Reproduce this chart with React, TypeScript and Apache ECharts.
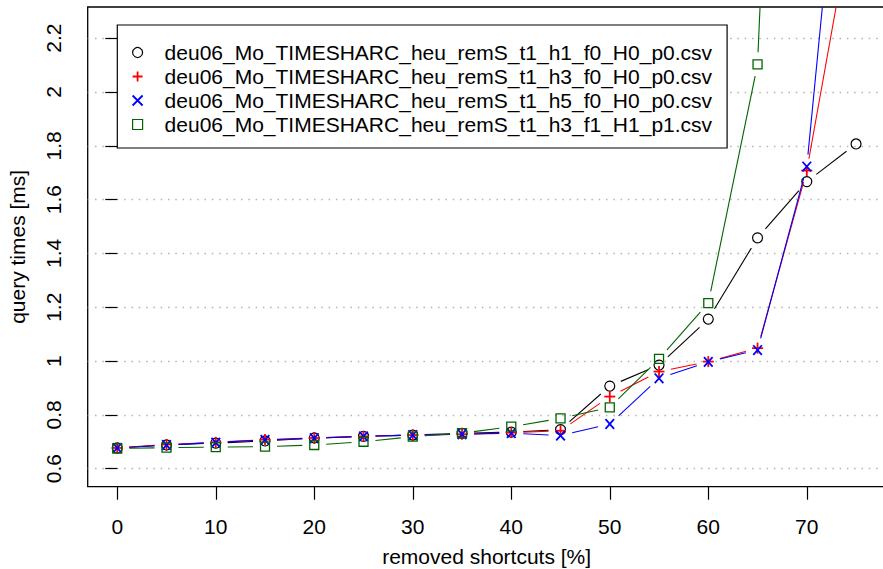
import React, { useEffect, useRef } from "react";
import * as echarts from "echarts";

const xValues = [0, 5, 10, 15, 20, 25, 30, 35, 40, 45, 50, 55, 60, 65, 70, 75];
const seriesNames = [
  "deu06_Mo_TIMESHARC_heu_remS_t1_h1_f0_H0_p0.csv",
  "deu06_Mo_TIMESHARC_heu_remS_t1_h3_f0_H0_p0.csv",
  "deu06_Mo_TIMESHARC_heu_remS_t1_h5_f0_H0_p0.csv",
  "deu06_Mo_TIMESHARC_heu_remS_t1_h3_f1_H1_p1.csv",
];
const h1Values = [0.677, 0.688, 0.695, 0.703, 0.714, 0.72, 0.725, 0.731, 0.736, 0.745, 0.907, 0.985, 1.156, 1.458, 1.667, 1.807];
const h3Values = [0.677, 0.69, 0.698, 0.708, 0.714, 0.72, 0.725, 0.728, 0.734, 0.741, 0.868, 0.961, 0.998, 1.048, 1.708, 2.73];
const h5Values = [0.677, 0.688, 0.697, 0.707, 0.713, 0.72, 0.725, 0.728, 0.732, 0.723, 0.766, 0.936, 0.997, 1.041, 1.723, 3.6];
const f1Values = [0.675, 0.678, 0.68, 0.682, 0.688, 0.7, 0.719, 0.732, 0.756, 0.787, 0.828, 1.008, 1.215, 2.103, 6.3, null];
const xTicks = [0, 10, 20, 30, 40, 50, 60, 70];
const yTicks = [0.6, 0.8, 1.0, 1.2, 1.4, 1.6, 1.8, 2.0, 2.2];

const colors = ["#000000", "#ff0000", "#0000ff", "#006400"];
const markers = ["circle", "plus", "cross", "square"];

const FONT = "'Liberation Sans', Arial, Helvetica, sans-serif";
const GAP = 12;

function clipSeg(x1: number, y1: number, x2: number, y2: number, r: any) {
  let t0 = 0, t1 = 1;
  const dx = x2 - x1, dy = y2 - y1;
  const p = [-dx, dx, -dy, dy];
  const q = [x1 - r.x, r.x + r.width - x1, y1 - r.y, r.y + r.height - y1];
  for (let i = 0; i < 4; i++) {
    if (p[i] === 0) {
      if (q[i] < 0) return null;
    } else {
      const t = q[i] / p[i];
      if (p[i] < 0) { if (t > t1) return null; if (t > t0) t0 = t; }
      else { if (t < t0) return null; if (t < t1) t1 = t; }
    }
  }
  return [x1 + t0 * dx, y1 + t0 * dy, x1 + t1 * dx, y1 + t1 * dy];
}

function markerEl(kind: string, cx: number, cy: number, color: string): any[] {
  if (kind === "circle") {
    return [{ type: "circle", shape: { cx, cy, r: 5 }, style: { fill: "none", stroke: color, lineWidth: 1.2 } }];
  }
  if (kind === "plus") {
    const h = 5.5;
    return [
      { type: "line", shape: { x1: cx - h, y1: cy, x2: cx + h, y2: cy }, style: { stroke: color, lineWidth: 1.8 } },
      { type: "line", shape: { x1: cx, y1: cy - h, x2: cx, y2: cy + h }, style: { stroke: color, lineWidth: 1.8 } },
    ];
  }
  if (kind === "cross") {
    const h = 4.3;
    return [
      { type: "line", shape: { x1: cx - h, y1: cy - h - 0.5, x2: cx + h, y2: cy + h + 0.5 }, style: { stroke: color, lineWidth: 1.8 } },
      { type: "line", shape: { x1: cx + h, y1: cy - h - 0.5, x2: cx - h, y2: cy + h + 0.5 }, style: { stroke: color, lineWidth: 1.8 } },
    ];
  }
  return [{ type: "rect", shape: { x: cx - 4.5, y: cy - 4.5, width: 9, height: 9 }, style: { fill: "none", stroke: color, lineWidth: 1.3 } }];
}

function buildData(values: (number | null)[]) {
  const out: any[] = [];
  for (let i = 0; i < values.length; i++) {
    const v = values[i];
    if (v === null) continue;
    const nx = i + 1 < values.length ? xValues[i + 1] : null;
    const nv = i + 1 < values.length ? values[i + 1] : null;
    out.push([xValues[i], v, nx === null ? NaN : nx, nv === null ? NaN : nv]);
  }
  return out;
}

export default function App() {
  const ref = useRef<HTMLDivElement>(null);
  useEffect(() => {
    if (!ref.current) return;
    const chart = echarts.init(ref.current, null, { renderer: "svg" });
    const allValues = [h1Values, h3Values, h5Values, f1Values];
    const series = allValues.map((vals, si) => ({
      type: "custom",
      name: seriesNames[si],
      data: buildData(vals),
      encode: { x: 0, y: 1 },
      itemStyle: { color: colors[si] },
      renderItem: (params: any, api: any) => {
        const rect = params.coordSys;
        const p = api.coord([api.value(0), api.value(1)]);
        const children: any[] = [];
        const nx = api.value(2);
        const ny = api.value(3);
        if (!isNaN(nx) && !isNaN(ny)) {
          const q = api.coord([nx, ny]);
          const dx = q[0] - p[0], dy = q[1] - p[1];
          const L = Math.sqrt(dx * dx + dy * dy);
          if (L > 2 * GAP) {
            const ux = dx / L, uy = dy / L;
            const c = clipSeg(p[0] + ux * GAP, p[1] + uy * GAP, q[0] - ux * GAP, q[1] - uy * GAP, rect);
            if (c) {
              children.push({ type: "line", shape: { x1: c[0], y1: c[1], x2: c[2], y2: c[3] }, style: { stroke: colors[si], lineWidth: 1.1 } });
            }
          }
        }
        if (p[0] >= rect.x && p[0] <= rect.x + rect.width && p[1] >= rect.y && p[1] <= rect.y + rect.height) {
          children.push(...markerEl(markers[si], p[0], p[1], colors[si]));
        }
        return { type: "group", children };
      },
    }));

    const legendIcons = [
      "circle",
      "path://M0,5L10,5M5,0L5,10",
      "path://M0,0L10,10M10,0L0,10",
      "path://M0,0L10,0L10,10L0,10Z",
    ];

    chart.setOption({
      animation: false,
      backgroundColor: "#ffffff",
      textStyle: { fontFamily: FONT },
      grid: {
        left: 87.7,
        top: 7,
        right: -2.6,
        bottom: 82.3,
        outerBoundsMode: "none",
        containLabel: false,
        show: true,
        borderColor: "#000",
        borderWidth: 1.3,
        backgroundColor: "transparent",
      },
      xAxis: {
        type: "value",
        min: -3,
        max: 78,
        name: "removed shortcuts [%]",
        nameLocation: "middle",
        nameGap: 59,
        nameTextStyle: { fontSize: 21, color: "#000", fontFamily: FONT },
        axisLine: { show: false },
        axisTick: { show: true, customValues: xTicks, length: 13, lineStyle: { color: "#000", width: 1.2 } },
        axisLabel: { customValues: xTicks, fontSize: 21, color: "#000", margin: 29, fontFamily: FONT },
        splitLine: { show: false },
      },
      yAxis: {
        type: "value",
        min: 0.533,
        max: 2.316,
        name: "query times [ms]",
        nameLocation: "middle",
        nameRotate: 90,
        nameGap: 60,
        nameTextStyle: { fontSize: 21, color: "#000", fontFamily: FONT },
        axisLine: { show: false },
        axisTick: { show: true, customValues: yTicks, length: 12, lineStyle: { color: "#000", width: 1.2 } },
        axisLabel: { customValues: yTicks, rotate: 90, fontSize: 21, color: "#000", margin: 24, fontFamily: FONT },
        splitLine: { show: true, lineStyle: { color: "#b4b4b4", width: 1.3, type: [1.5, 5.8] } },
      },
      legend: {
        orient: "vertical",
        left: 117.3,
        top: 25,
        padding: [17, 15, 13, 14.4],
        itemGap: 3,
        itemWidth: 10,
        itemHeight: 10,
        borderColor: "#000",
        borderWidth: 1.2,
        borderRadius: 0,
        backgroundColor: "#fff",
        selectedMode: false,
        textStyle: { fontSize: 21, color: "#000", fontFamily: FONT, padding: [0, 0, 0, 17] },
        data: seriesNames.map((n, i) => ({
          name: n,
          icon: legendIcons[i],
          itemStyle: { color: "rgba(0,0,0,0)", borderColor: colors[i], borderWidth: i === 1 || i === 2 ? 1.8 : 1.2 },
        })),
      },
      series,
    });
    return () => chart.dispose();
  }, []);
  return <div ref={ref} style={{ position: "absolute", left: 0, top: 0, width: 883, height: 569 }} />;
}
